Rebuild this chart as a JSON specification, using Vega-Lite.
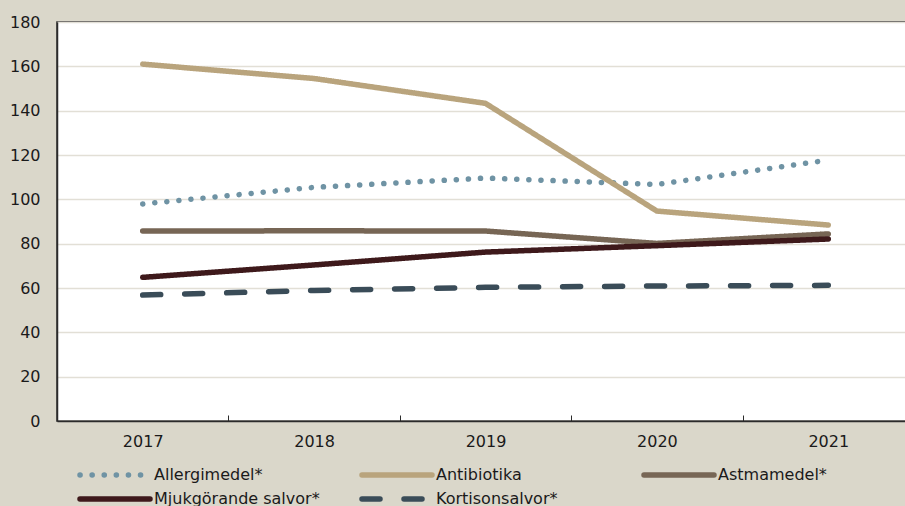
{
  "$schema": "https://vega.github.io/schema/vega-lite/v6.json",
  "autosize": "none",
  "width": 857,
  "height": 399,
  "padding": {"left": 57, "top": 22, "right": 0, "bottom": 85},
  "background": "#dad7ca",
  "config": {
    "font": "DejaVu Sans",
    "view": {"fill": "white", "stroke": "#2b2b2b", "strokeWidth": 1.5}
  },
  "data": {
    "values": [
      {"year": "2017", "serie": "Allergimedel*", "value": 97.9},
      {"year": "2018", "serie": "Allergimedel*", "value": 105.4},
      {"year": "2019", "serie": "Allergimedel*", "value": 109.6},
      {"year": "2020", "serie": "Allergimedel*", "value": 106.7},
      {"year": "2021", "serie": "Allergimedel*", "value": 117.7},
      {"year": "2017", "serie": "Antibiotika", "value": 161},
      {"year": "2018", "serie": "Antibiotika", "value": 154.5},
      {"year": "2019", "serie": "Antibiotika", "value": 143.3},
      {"year": "2020", "serie": "Antibiotika", "value": 94.7},
      {"year": "2021", "serie": "Antibiotika", "value": 88.4},
      {"year": "2017", "serie": "Astmamedel*", "value": 85.7},
      {"year": "2018", "serie": "Astmamedel*", "value": 85.8},
      {"year": "2019", "serie": "Astmamedel*", "value": 85.7},
      {"year": "2020", "serie": "Astmamedel*", "value": 80.1},
      {"year": "2021", "serie": "Astmamedel*", "value": 84.4},
      {"year": "2017", "serie": "Mjukgörande salvor*", "value": 64.8},
      {"year": "2018", "serie": "Mjukgörande salvor*", "value": 70.4},
      {"year": "2019", "serie": "Mjukgörande salvor*", "value": 76.2},
      {"year": "2020", "serie": "Mjukgörande salvor*", "value": 79.1},
      {"year": "2021", "serie": "Mjukgörande salvor*", "value": 82.1},
      {"year": "2017", "serie": "Kortisonsalvor*", "value": 56.8},
      {"year": "2018", "serie": "Kortisonsalvor*", "value": 58.9},
      {"year": "2019", "serie": "Kortisonsalvor*", "value": 60.3},
      {"year": "2020", "serie": "Kortisonsalvor*", "value": 60.9},
      {"year": "2021", "serie": "Kortisonsalvor*", "value": 61.2}
    ]
  },
  "mark": {"type": "line", "strokeWidth": 5.5, "strokeCap": "round", "strokeJoin": "round"},
  "encoding": {
    "x": {
      "field": "year", "type": "ordinal",
      "scale": {"type": "band", "paddingInner": 0, "paddingOuter": 0},
      "axis": {
        "title": null, "labelAngle": 0, "tickBand": "extent",
        "tickSize": -6, "tickColor": "#2b2b2b", "tickWidth": 1,
        "domainColor": "#2b2b2b", "domainWidth": 1.5,
        "labelFontSize": 16, "labelColor": "#1a1a1a", "labelPadding": 18
      }
    },
    "y": {
      "field": "value", "type": "quantitative",
      "scale": {"domain": [0, 180], "nice": false},
      "axis": {
        "title": null, "values": [0, 20, 40, 60, 80, 100, 120, 140, 160, 180],
        "ticks": false, "labelPadding": 17,
        "labelFontSize": 16, "labelColor": "#1a1a1a",
        "domainColor": "#2b2b2b", "domainWidth": 1.5,
        "gridColor": "#e2dfd6", "gridWidth": 1.5
      }
    },
    "color": {
      "field": "serie", "type": "nominal",
      "sort": ["Allergimedel*", "Antibiotika", "Astmamedel*", "Mjukgörande salvor*", "Kortisonsalvor*"],
      "scale": {
        "domain": ["Allergimedel*", "Antibiotika", "Astmamedel*", "Mjukgörande salvor*", "Kortisonsalvor*"],
        "range": ["#6f93a4", "#b9a47d", "#776655", "#3e191b", "#3a4c58"]
      },
      "legend": {
        "title": null, "orient": "none", "legendX": 48, "legendY": 443,
        "direction": "horizontal", "columns": 3, "gridAlign": "all",
        "columnPadding": 31, "rowPadding": 2,
        "symbolType": "M-5,0H5", "symbolSize": 196, "symbolStrokeWidth": 5.5,
        "labelFontSize": 16, "labelColor": "#1a1a1a", "labelOffset": 29, "labelLimit": 300,
        "encode": {"symbols": {"update": {"strokeCap": {"value": "round"}}}}
      }
    },
    "strokeDash": {
      "field": "serie", "type": "nominal",
      "scale": {
        "domain": ["Allergimedel*", "Antibiotika", "Astmamedel*", "Mjukgörande salvor*", "Kortisonsalvor*"],
        "range": [[0.1, 12], [1, 0], [1, 0], [1, 0], [18, 24]]
      },
      "legend": null
    }
  }
}
